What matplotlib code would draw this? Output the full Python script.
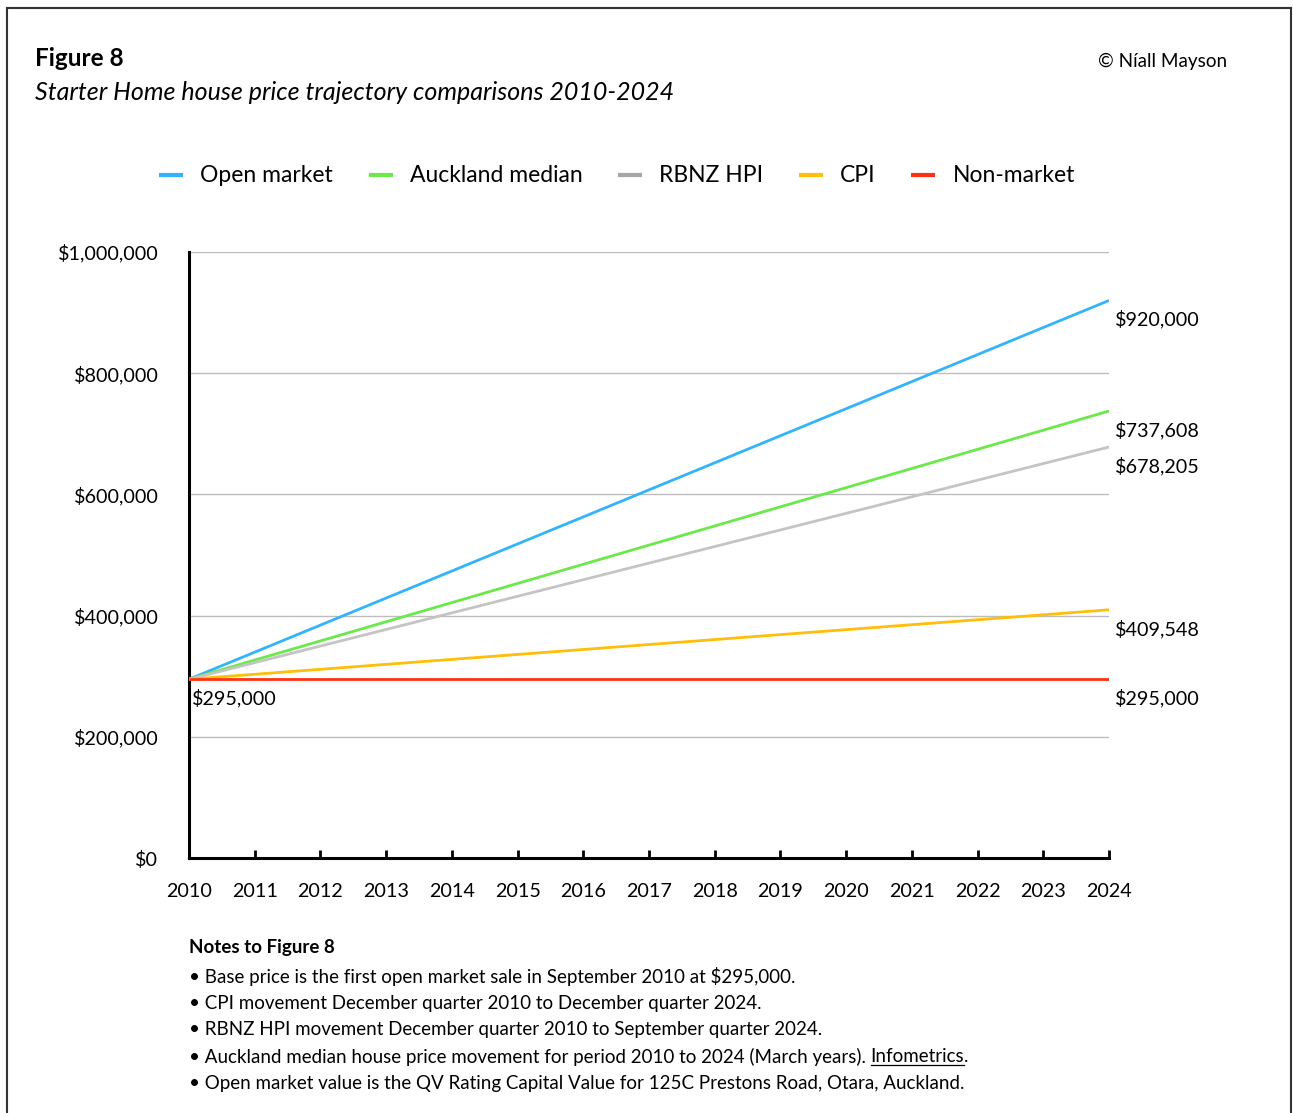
import matplotlib
matplotlib.use('Agg')
import matplotlib.pyplot as plt
from matplotlib.lines import Line2D
from matplotlib.ticker import FuncFormatter

plt.rcParams['font.family'] = ['Lato', 'DejaVu Sans']

# data: start and end of each trajectory
years = [2010, 2024]
open_market = [295000, 920000]
auckland_median = [295000, 737608]
rbnz_hpi = [295000, 678205]
cpi = [295000, 409548]
non_market = [295000, 295000]

series_names = ['Open market', 'Auckland median', 'RBNZ HPI', 'CPI', 'Non-market']
series_values = [open_market, auckland_median, rbnz_hpi, cpi, non_market]
series_colors = ['#33B4FA', '#6BE84A', '#C4C4C4', '#FFBE0A', '#FF3314']

notes = [
    'Base price is the first open market sale in September 2010 at $295,000.',
    'CPI movement December quarter 2010 to December quarter 2024.',
    'RBNZ HPI movement December quarter 2010 to September quarter 2024.',
    None,  # Auckland line with underlined link, drawn separately
    'Open market value is the QV Rating Capital Value for 125C Prestons Road, Otara, Auckland.',
]

W, H = 1293, 1113
fig = plt.figure(figsize=(W / 100, H / 100), dpi=100)

def fx(px):
    return px / W

def fy(py):
    return 1 - py / H

# outer frame (open at the bottom)
frame_kw = dict(color='#333333', lw=1.5, transform=fig.transFigure)
fig.add_artist(Line2D([fx(7), fx(7)], [fy(8), 0], **frame_kw))
fig.add_artist(Line2D([fx(7), fx(1291)], [fy(8), fy(8)], **frame_kw))
fig.add_artist(Line2D([fx(1291), fx(1291)], [fy(8), 0], **frame_kw))

# header text
fig.text(fx(35), fy(58), 'Figure 8', fontsize=17.5, fontweight='bold', va='center')
fig.text(fx(35), fy(92), 'Starter Home house price trajectory comparisons 2010-2024',
         fontsize=18, style='italic', va='center')
fig.text(fx(1227), fy(61), '© Níall Mayson', fontsize=13.6, ha='right', va='center')

# main axes
ax = fig.add_axes([fx(189), fy(858), fx(1109) - fx(189), fy(252) - fy(858)])
for name, vals, col in zip(series_names, series_values, series_colors):
    ax.plot(years, vals, color=col, lw=2, label=name, solid_capstyle='butt', zorder=3)

ax.set_xlim(2010, 2024)
ax.set_ylim(0, 1000000)
ax.set_xticks(range(2010, 2025))
ax.set_yticks(range(0, 1000001, 200000))
ax.yaxis.set_major_formatter(FuncFormatter(lambda v, p: '${:,.0f}'.format(v)))

for y in range(200000, 1000001, 200000):
    ax.axhline(y, color='#BDBDBD', lw=1, zorder=1)

for side in ['top', 'right']:
    ax.spines[side].set_visible(False)
ax.spines['left'].set_linewidth(2.2)
ax.spines['bottom'].set_linewidth(2.2)
ax.tick_params(axis='x', direction='in', length=6, width=2, labelsize=14.2, pad=18)
ax.tick_params(axis='y', length=0, labelsize=14.2, pad=22)

# end labels
for vals in series_values:
    ax.annotate('${:,.0f}'.format(vals[-1]), xy=(years[-1], vals[-1]),
                xytext=(4.5, -13.5), textcoords='offset points',
                fontsize=14.2, ha='left', va='center', annotation_clip=False)
ax.annotate('${:,.0f}'.format(open_market[0]), xy=(years[0], open_market[0]),
            xytext=(2.5, -13.5), textcoords='offset points',
            fontsize=14.2, ha='left', va='center', annotation_clip=False)

# legend
fig.legend(loc='center', bbox_to_anchor=(fx(617), fy(176)), ncol=5, frameon=False,
           fontsize=16.5, handlelength=1.05, handletextpad=0.75, columnspacing=1.55,
           handleheight=0.5)
for lh in fig.legends[0].get_lines():
    lh.set_linewidth(3)
    if lh.get_label() == 'RBNZ HPI':
        lh.set_color('#A6A6A6')

# notes
fig.text(fx(189), fy(948), 'Notes to Figure 8', fontsize=13.5, fontweight='bold', va='center')
note_y = [977, 1003, 1030, 1057, 1083]
for txt, yy in zip(notes, note_y):
    if txt is not None:
        fig.text(fx(189), fy(yy), '• ' + txt, fontsize=13.5, va='center')

t1 = fig.text(fx(189), fy(1057),
              '• Auckland median house price movement for period 2010 to 2024 (March years). ',
              fontsize=13.5, va='center')
t2 = fig.text(0, 0, 'Infometrics', fontsize=13.5, va='center')
fig.canvas.draw()
r = fig.canvas.get_renderer()
b1 = t1.get_window_extent(r)
t2.set_position((b1.x1 / W, fy(1057)))
fig.canvas.draw()
b2 = t2.get_window_extent(r)
fig.text(b2.x1 / W, fy(1057), '.', fontsize=13.5, va='center')
fig.add_artist(Line2D([b2.x0 / W, b2.x1 / W], [(b2.y0 + 1) / H, (b2.y0 + 1) / H],
                      color='black', lw=0.9, transform=fig.transFigure))

fig.savefig('out.png', dpi=100)
